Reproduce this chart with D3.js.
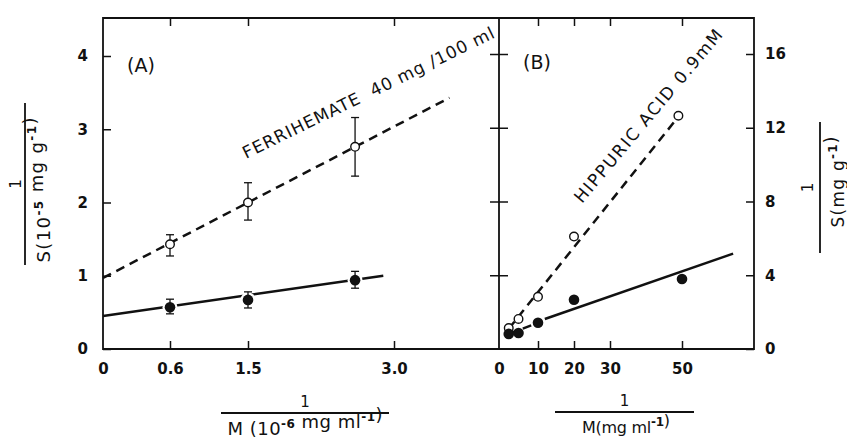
<!DOCTYPE html>
<html>
<head>
<meta charset="utf-8">
<script src="https://cdn.jsdelivr.net/npm/d3@7"></script>
<style>
  body { margin: 0; background: #fff; }
  svg { display: block; }
  text { font-family: "DejaVu Sans", sans-serif; fill: #111; }
  .tick text { font-weight: bold; font-size: 15px; }
</style>
</head>
<body>
<svg id="chart"></svg>
<script>
// panel A - ferrihemate 40 mg/100 ml (x in 10^-6 mg ml^-1)
const aX = [0.6, 1.5, 2.6];
const aOpenY = [1.43, 2.0, 2.76];
const aOpenLo = [1.27, 1.76, 2.36];
const aOpenHi = [1.56, 2.27, 3.16];
const aFilledY = [0.57, 0.67, 0.94];
const aFilledLo = [0.48, 0.56, 0.83];
const aFilledHi = [0.68, 0.78, 1.06];
const aOpenFit = [[0, 0.97], [3.57, 3.43]];
const aFilledFit = [[0, 0.45], [2.89, 1.0]];
const aTicksX = [0, 0.6, 1.5, 3.0];
const aTicksY = [0, 1, 2, 3, 4];

// panel B - hippuric acid 0.9 mM (x in mg ml^-1)
const bOpenX = [2.5, 5, 10, 20, 49];
const bOpenY = [1.14, 1.63, 2.83, 6.1, 12.65];
const bFilledX = [2.5, 5, 10, 20, 50];
const bFilledY = [0.82, 0.87, 1.42, 2.67, 3.8];
const bOpenFit = [[2.5, 1.1], [49, 12.6]];
const bFilledDash = [[2.5, 0.82], [10, 1.42]];
const bFilledFit = [[11.9, 1.63], [64.2, 5.17]];
const bTicksX = [0, 10, 20, 30, 50];
const bTicksY = [0, 4, 8, 12, 16];

const W = 847, H = 441;
const pLeft = 103, pMid = 499, pRight = 754, pTop = 18, pBottom = 349;

const svg = d3.select('#chart').attr('width', W).attr('height', H);
svg.append('rect').attr('width', W).attr('height', H).attr('fill', '#fff');

// the original axis is not evenly spaced, so the A scale is piecewise
const xA = d3.scaleLinear().domain([0, 0.6, 1.5, 3.0]).range([pLeft, 170, 248, 394]);
const yA = d3.scaleLinear().domain([0, 4]).range([pBottom, 56]);
const xB = d3.scaleLinear().domain([0, 10, 50, 70]).range([pMid, 538, 682, pRight]);
const yB = d3.scaleLinear().domain([0, 16]).range([pBottom, 54]);

function styleAxis(g) {
  g.select('.domain').remove();
  g.selectAll('.tick line').attr('stroke', '#111').attr('stroke-width', 1.5);
}

// axes
svg.append('g').attr('transform', `translate(0,${pBottom})`)
  .call(d3.axisBottom(xA).tickValues(aTicksX).tickSize(-8).tickPadding(14)
    .tickFormat(d => d === 0 ? '0' : d.toFixed(1)))
  .call(styleAxis)
  .call(g => g.selectAll('.tick').filter(d => d === 0).select('line').remove());
svg.append('g').attr('transform', `translate(0,${pTop})`)
  .call(d3.axisTop(xA).tickValues(aTicksX.slice(1)).tickSize(-8).tickFormat(''))
  .call(styleAxis);
svg.append('g').attr('transform', `translate(${pLeft},0)`)
  .call(d3.axisLeft(yA).tickValues(aTicksY).tickSize(-8).tickPadding(15).tickFormat(d3.format('d')))
  .call(styleAxis);

svg.append('g').attr('transform', `translate(0,${pBottom})`)
  .call(d3.axisBottom(xB).tickValues(bTicksX).tickSize(-8).tickPadding(14))
  .call(styleAxis)
  .call(g => g.selectAll('.tick').filter(d => d === 0).select('line').remove());
svg.append('g').attr('transform', `translate(0,${pTop})`)
  .call(d3.axisTop(xB).tickValues(bTicksX.slice(1)).tickSize(-8).tickFormat(''))
  .call(styleAxis);
svg.append('g').attr('transform', `translate(${pMid},0)`)
  .call(d3.axisLeft(yB).tickValues(bTicksY.slice(1)).tickSize(9).tickFormat(''))
  .call(styleAxis);
svg.append('g').attr('transform', `translate(${pMid},0)`)
  .call(d3.axisRight(yB).tickValues(bTicksY.slice(1)).tickSize(9).tickFormat(''))
  .call(styleAxis);
svg.append('g').attr('transform', `translate(${pRight},0)`)
  .call(d3.axisRight(yB).tickValues(bTicksY).tickSize(-8).tickPadding(11).tickFormat(d3.format('d')))
  .call(styleAxis);

// frame
svg.append('path')
  .attr('d', `M${pLeft},${pTop}H${pRight}V${pBottom}H${pLeft}Z M${pMid},${pTop}V${pBottom}`)
  .attr('fill', 'none').attr('stroke', '#111').attr('stroke-width', 1.8);

// fit lines
const lineA = d3.line().x(d => xA(d[0])).y(d => yA(d[1]));
const lineB = d3.line().x(d => xB(d[0])).y(d => yB(d[1]));

function fit(path, dashed) {
  svg.append('path').attr('d', path).attr('fill', 'none')
    .attr('stroke', '#111').attr('stroke-width', 2.5)
    .attr('stroke-dasharray', dashed ? '9,6' : null);
}
fit(lineA(aOpenFit), true);
fit(lineA(aFilledFit), false);
fit(lineB(bOpenFit), true);
fit(lineB(bFilledDash), true);
fit(lineB(bFilledFit), false);

// white halo behind filled markers (line breaks around points)
svg.append('g').selectAll('circle').data(aX).join('circle')
  .attr('cx', d => xA(d)).attr('cy', (d, i) => yA(aFilledY[i])).attr('r', 7.5).attr('fill', '#fff');

// error bars
function errorBars(lo, hi) {
  const g = svg.append('g').attr('stroke', '#111').attr('stroke-width', 1.3);
  aX.forEach((x, i) => {
    const cx = xA(x);
    g.append('line').attr('x1', cx).attr('x2', cx).attr('y1', yA(lo[i])).attr('y2', yA(hi[i]));
    [lo[i], hi[i]].forEach(v => {
      g.append('line').attr('x1', cx - 4).attr('x2', cx + 4).attr('y1', yA(v)).attr('y2', yA(v));
    });
  });
}
errorBars(aOpenLo, aOpenHi);
errorBars(aFilledLo, aFilledHi);

// markers
svg.append('g').selectAll('circle').data(aX).join('circle')
  .attr('cx', d => xA(d)).attr('cy', (d, i) => yA(aOpenY[i])).attr('r', 4.3)
  .attr('fill', '#fff').attr('stroke', '#111').attr('stroke-width', 1.4);
svg.append('g').selectAll('circle').data(aX).join('circle')
  .attr('cx', d => xA(d)).attr('cy', (d, i) => yA(aFilledY[i])).attr('r', 5.3)
  .attr('fill', '#111');
svg.append('g').selectAll('circle').data(bOpenX).join('circle')
  .attr('cx', d => xB(d)).attr('cy', (d, i) => yB(bOpenY[i])).attr('r', 4.3)
  .attr('fill', '#fff').attr('stroke', '#111').attr('stroke-width', 1.4);
svg.append('g').selectAll('circle').data(bFilledX).join('circle')
  .attr('cx', d => xB(d)).attr('cy', (d, i) => yB(bFilledY[i])).attr('r', 5.3)
  .attr('fill', '#111');

// panel letters
svg.append('text').attr('x', 127).attr('y', 72).attr('font-size', 19).text('(A)');
svg.append('text').attr('x', 523).attr('y', 69).attr('font-size', 19).text('(B)');

// curve labels
svg.append('text').attr('transform', 'translate(246,159) rotate(-26)')
  .attr('font-size', 17).attr('textLength', 278).attr('lengthAdjust', 'spacing')
  .style('white-space', 'pre').text('FERRIHEMATE  40 mg /100 ml');
svg.append('text').attr('transform', 'translate(582,204) rotate(-50)')
  .attr('font-size', 17).attr('textLength', 220).attr('lengthAdjust', 'spacing')
  .style('white-space', 'pre').text('HIPPURIC ACID 0.9mM');

// axis titles drawn as fractions
function fraction(g, barFrom, barTo, oneY, textY, textX, len, size, parts) {
  g.append('line').attr('x1', barFrom).attr('x2', barTo).attr('y1', 0).attr('y2', 0)
    .attr('stroke', '#111').attr('stroke-width', 1.8);
  g.append('text').attr('x', (barFrom + barTo) / 2).attr('y', oneY)
    .attr('text-anchor', 'middle').attr('font-size', 15).text('1');
  const t = g.append('text').attr('x', textX).attr('y', textY)
    .attr('text-anchor', 'middle').attr('font-size', size)
    .attr('textLength', len).attr('lengthAdjust', 'spacing');
  parts.forEach(p => {
    if (p.sup) {
      t.append('tspan').attr('dy', -7).attr('font-size', 12).attr('font-weight', 'bold').text(p.sup);
      t.append('tspan').attr('dy', 7).text('');
    } else {
      t.append('tspan').text(p.t);
    }
  });
}

fraction(svg.append('g').attr('transform', 'translate(25,185) rotate(-90)'),
  -80, 82, -4, 25, -5, 145, 18,
  [{ t: 'S(10' }, { sup: '-5' }, { t: '\u00a0mg\u00a0g' }, { sup: '-1' }, { t: ')' }]);
fraction(svg.append('g').attr('transform', 'translate(820,188) rotate(-90)'),
  -65, 66, -7, 24, 6, 91, 17,
  [{ t: 'S(mg\u00a0g' }, { sup: '-1' }, { t: ')' }]);
fraction(svg.append('g').attr('transform', 'translate(0,413)'),
  221, 389, -6, 22, 305, 155, 18,
  [{ t: 'M\u00a0(10' }, { sup: '-6' }, { t: '\u00a0mg\u00a0ml' }, { sup: '-1' }, { t: ')' }]);
fraction(svg.append('g').attr('transform', 'translate(0,412)'),
  555, 694, -6, 21, 626, 88, 16,
  [{ t: 'M(mg\u00a0ml' }, { sup: '-1' }, { t: ')' }]);
</script>
</body>
</html>
